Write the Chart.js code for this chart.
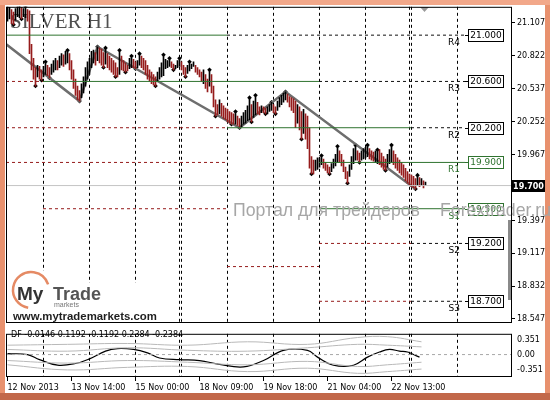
<!DOCTYPE html>
<html>
<head>
<meta charset="utf-8">
<script src="https://cdn.jsdelivr.net/npm/chart.js@4.4.0/dist/chart.umd.min.js"></script>
<style>
  html, body { margin: 0; padding: 0; background: #fff; }
  #wrap { position: relative; width: 550px; height: 400px; }
  #main { position: absolute; left: 0; top: 0; }
  #osc { position: absolute; left: 0; top: 323px; }
</style>
</head>
<body>
<div id="wrap">
  <canvas id="main" width="550" height="400"></canvas>
  <canvas id="osc" width="550" height="77"></canvas>
</div>
<script>
// SILVER H1, 12 - 22 Nov 2013, one bar per hour

const highs = [
  21.25, 21.24, 21.22, 21.20, 21.23, 21.25, 21.26, 21.24, 21.23, 21.25,
  21.22, 21.21, 20.92, 20.80, 20.72, 20.74, 20.73, 20.70, 20.73, 20.77,
  20.74, 20.72, 20.75, 20.78, 20.80, 20.78, 20.82, 20.84, 20.83, 20.86,
  20.87, 20.84, 20.78, 20.70, 20.62, 20.56, 20.52, 20.58, 20.64, 20.72,
  20.77, 20.80, 20.86, 20.87, 20.85, 20.90, 20.89, 20.88, 20.85, 20.89,
  20.84, 20.82, 20.80, 20.78, 20.76, 20.72, 20.87, 20.82, 20.78, 20.76,
  20.74, 20.80, 20.82, 20.79, 20.77, 20.78, 20.84, 20.82, 20.80, 20.78,
  20.74, 20.70, 20.68, 20.66, 20.64, 20.68, 20.72, 20.76, 20.83, 20.79,
  20.78, 20.80, 20.77, 20.75, 20.74, 20.78, 20.80, 20.77, 20.74, 20.72,
  20.74, 20.77, 20.75, 20.77, 20.74, 20.72, 20.70, 20.68, 20.70, 20.66,
  20.62, 20.70, 20.66, 20.56, 20.44, 20.40, 20.44, 20.41, 20.39, 20.37,
  20.36, 20.34, 20.33, 20.32, 20.34, 20.30, 20.28, 20.30, 20.33, 20.35,
  20.39, 20.46, 20.40, 20.43, 20.48, 20.42, 20.38, 20.39, 20.38, 20.37,
  20.38, 20.40, 20.42, 20.40, 20.38, 20.43, 20.46, 20.48, 20.50, 20.51,
  20.49, 20.47, 20.46, 20.45, 20.43, 20.40, 20.38, 20.34, 20.36, 20.32,
  20.30, 20.20, 19.95, 19.92, 19.92, 19.94, 19.94, 19.96, 19.93, 19.90,
  19.88, 19.86, 19.89, 19.93, 19.97, 20.04, 20.00, 19.97, 19.92, 19.86,
  19.82, 19.88, 19.95, 20.02, 20.05, 20.00, 19.98, 20.00, 20.02, 20.03,
  20.05, 20.02, 20.00, 19.99, 20.00, 20.01, 20.01, 19.98, 19.95, 19.93,
  19.97, 20.01, 20.05, 20.00, 19.97, 19.94, 19.92, 19.90, 19.88, 19.85,
  19.82, 19.80, 19.79, 19.78, 19.76, 19.79, 19.77, 19.76, 19.74, 19.73
];
const lows = [
  21.12, 21.14, 21.10, 21.09, 21.13, 21.16, 21.15, 21.14, 21.16, 21.15,
  21.12, 20.84, 20.70, 20.62, 20.56, 20.64, 20.62, 20.61, 20.64, 20.66,
  20.65, 20.63, 20.66, 20.68, 20.70, 20.70, 20.72, 20.74, 20.73, 20.75,
  20.76, 20.70, 20.62, 20.54, 20.48, 20.44, 20.43, 20.46, 20.50, 20.56,
  20.62, 20.66, 20.72, 20.76, 20.74, 20.78, 20.76, 20.74, 20.72, 20.75,
  20.72, 20.70, 20.68, 20.66, 20.64, 20.64, 20.66, 20.70, 20.69, 20.68,
  20.69, 20.71, 20.72, 20.72, 20.71, 20.72, 20.74, 20.72, 20.70, 20.66,
  20.62, 20.60, 20.58, 20.57, 20.56, 20.60, 20.62, 20.64, 20.65, 20.71,
  20.72, 20.73, 20.72, 20.70, 20.71, 20.72, 20.73, 20.70, 20.66, 20.64,
  20.67, 20.69, 20.71, 20.73, 20.68, 20.66, 20.64, 20.60, 20.58, 20.54,
  20.51, 20.56, 20.50, 20.38, 20.30, 20.31, 20.32, 20.30, 20.28, 20.27,
  20.25, 20.24, 20.23, 20.23, 20.23, 20.22, 20.20, 20.21, 20.23, 20.24,
  20.26, 20.27, 20.25, 20.29, 20.31, 20.32, 20.31, 20.33, 20.33, 20.32,
  20.32, 20.34, 20.35, 20.33, 20.32, 20.35, 20.38, 20.40, 20.42, 20.44,
  20.42, 20.38, 20.35, 20.33, 20.20, 20.24, 20.18, 20.10, 20.15, 20.10,
  20.02, 19.85, 19.80, 19.80, 19.83, 19.84, 19.86, 19.88, 19.85, 19.83,
  19.81, 19.80, 19.82, 19.85, 19.87, 19.90, 19.90, 19.87, 19.82, 19.76,
  19.72, 19.78, 19.84, 19.89, 19.92, 19.92, 19.90, 19.92, 19.93, 19.94,
  19.95, 19.93, 19.92, 19.91, 19.90, 19.89, 19.88, 19.86, 19.84, 19.83,
  19.86, 19.89, 19.90, 19.88, 19.85, 19.83, 19.81, 19.79, 19.77, 19.74,
  19.72, 19.70, 19.69, 19.68, 19.67, 19.70, 19.69, 19.70, 19.68, 19.70
];
const lastPrice = 19.70;

// zigzag turning points
const zigBars = [-14, 36, 45, 116, 139, 204];
const zigPrices = [21.10, 20.43, 20.90, 20.20, 20.51, 19.67];

// pivot levels
const levelPrices = [21.0, 20.6, 20.2, 19.9, 19.5, 19.2, 18.7];
const levelNames = ['R4', 'R3', 'R2', 'R1', 'S1', 'S2', 'S3'];
const levelGreen = [false, false, false, true, true, false, false];
const labelBar = 228.75;

// [price, fromBar, toBar, style]  g = green solid, r = red dashed, k = black dashed
const segments = [
  [21.0, -0.75, 109.75, 'g'], [21.0, 109.75, 228.75, 'k'],
  [20.6, -0.75, 17.75, 'r'], [20.6, 17.75, 155.75, 'g'], [20.6, 155.75, 228.75, 'k'],
  [20.2, -0.75, 109.75, 'r'], [20.2, 109.75, 201.75, 'g'], [20.2, 201.75, 228.75, 'k'],
  [19.9, -0.75, 109.75, 'r'], [19.9, 155.75, 228.75, 'g'],
  [19.5, 17.75, 109.75, 'r'], [19.5, 155.75, 228.75, 'g'],
  [19.0, 109.75, 155.75, 'r'],
  [19.2, 155.75, 201.75, 'r'], [19.2, 201.75, 228.75, 'k'],
  [18.7, 155.75, 201.75, 'r'], [18.7, 201.75, 228.75, 'k']
];

// day separators (bar positions)
const gridBars = [17.75, 40.75, 63.75, 85.75, 86.75, 109.75, 132.75, 155.75, 178.75, 200.75, 201.75, 224.75];

const priceTicks = [21.107, 20.822, 20.537, 20.252, 19.967, 19.397, 19.117, 18.832, 18.547];

const timeTicks = [0, 32, 64, 96, 128, 160, 192];
const timeLabels = ['12 Nov 2013', '13 Nov 14:00', '15 Nov 00:00', '18 Nov 09:00', '19 Nov 18:00', '21 Nov 04:00', '22 Nov 13:00'];

// DF oscillator
const dfBars = [0, 10, 16, 25, 34, 41, 49, 55, 63, 70, 76, 86, 96, 106, 118, 128, 138, 150, 155, 163, 173, 180, 186, 191, 196, 200, 203, 206];
const dfValues = [0.02, 0, -0.12, -0.25, -0.21, -0.10, 0.08, 0.14, 0.12, 0.04, -0.08, -0.12, -0.14, -0.23, -0.29, -0.14, 0.10, 0.10, -0.06, -0.25, -0.25, -0.06, 0.06, 0.12, 0.08, 0.06, 0, -0.06];
const bandBars = [0, 30, 60, 90, 120, 150, 175, 190, 207];
const upper2 = [0.22, 0.24, 0.26, 0.22, 0.30, 0.24, 0.40, 0.42, 0.30];
const upper1 = [0.12, 0.08, 0.16, 0.10, 0.08, 0.16, 0.24, 0.22, 0.18];
const lower1 = [-0.14, -0.20, -0.14, -0.18, -0.24, -0.16, -0.28, -0.24, -0.18];
const lower2 = [-0.24, -0.36, -0.30, -0.28, -0.40, -0.32, -0.44, -0.40, -0.34];
const dfTicks = [0.351, 0, -0.351];
const dfTickLabels = ['0.351', '0.00', '-0.351'];
const dfLegend = 'DF -0.0146 0.1192 -0.1192 0.2384 -0.2384';

const xMin = -0.75, xMax = 251.75;
const GREEN = '#2f732f', RED = '#961c1c';

Chart.defaults.font.family = '"DejaVu Sans"';
Chart.defaults.font.size = 8;
Chart.defaults.color = '#000';

// bars: black when the bar moves up, dark red when it moves down
const barColors = highs.map((h, i) => {
  if (i === 0) return '#000';
  return (h + lows[i]) >= (highs[i - 1] + lows[i - 1]) ? '#000' : RED;
});

// fractals (5 bar rule)
const fracUp = [], fracDn = [];
for (let i = 2; i < highs.length - 2; i++) {
  if (highs[i] > highs[i - 1] && highs[i] > highs[i - 2] && highs[i] >= highs[i + 1] && highs[i] >= highs[i + 2]) fracUp.push({ x: i, y: highs[i] });
  if (lows[i] < lows[i - 1] && lows[i] < lows[i - 2] && lows[i] <= lows[i + 1] && lows[i] <= lows[i + 2]) fracDn.push({ x: i, y: lows[i] });
}

const segStyle = {
  g: { color: GREEN, dash: [] },
  r: { color: RED, dash: [3, 3] },
  k: { color: '#111', dash: [3, 3] }
};

const segDatasets = segments.map(s => ({
  type: 'line',
  data: [{ x: s[1], y: s[0] }, { x: s[2], y: s[0] }],
  borderColor: segStyle[s[3]].color,
  borderDash: segStyle[s[3]].dash,
  borderWidth: 1,
  pointRadius: 0
}));

const dayLines = {
  id: 'dayLines',
  beforeDatasetsDraw(c) {
    const g = c.ctx, a = c.chartArea, x = c.scales.x;
    g.save();
    g.strokeStyle = '#000';
    g.lineWidth = 1;
    g.setLineDash([3, 3]);
    gridBars.forEach(b => {
      const px = Math.round(x.getPixelForValue(b)) + 0.5;
      g.beginPath();
      g.moveTo(px, a.top);
      g.lineTo(px, a.bottom);
      g.stroke();
    });
    g.restore();
  }
};

function fitFont(g, text, weight, family, width) {
  g.font = weight + ' 20px ' + family;
  const size = 20 * width / g.measureText(text).width;
  g.font = weight + ' ' + size.toFixed(2) + 'px ' + family;
}

const frame = {
  id: 'frame',
  beforeDraw(c) {
    const g = c.ctx;
    g.save();
    g.fillStyle = '#e8916e';
    g.fillRect(0, 0, 550, 400);
    g.fillStyle = '#f2a88a';
    g.fillRect(0, 0, 550, 5);
    g.fillStyle = '#c2684a';
    g.fillRect(0, 393, 550, 7);
    g.fillStyle = '#fff';
    g.fillRect(5, 5, 540, 388);
    g.restore();
  },
  beforeDatasetsDraw(c) {
    const g = c.ctx;
    g.save();
    g.fillStyle = '#505050';
    g.font = '21px "Liberation Serif"';
    g.fillText('SILVER H1', 10, 28);
    g.restore();
  },
  afterDraw(c) {
    const g = c.ctx, x = c.scales.x, y = c.scales.y, a = c.chartArea;
    g.save();

    // pivot labels
    const xe = x.getPixelForValue(labelBar);
    levelPrices.forEach((p, i) => {
      const py = Math.round(y.getPixelForValue(p)) + 0.5;
      const col = levelGreen[i] ? GREEN : '#000';
      g.strokeStyle = col;
      g.lineWidth = 1;
      g.beginPath();
      g.moveTo(xe, py);
      g.lineTo(xe + 3, py);
      g.stroke();
      g.fillStyle = '#fff';
      g.fillRect(xe + 3.5, py - 6, 35, 12);
      g.strokeRect(xe + 3.5, py - 6, 35, 12);
      g.fillStyle = col;
      g.font = '9px "DejaVu Sans"';
      g.textAlign = 'center';
      g.textBaseline = 'middle';
      g.fillText(p.toFixed(3), xe + 21, py + 0.5);
      g.textAlign = 'right';
      g.textBaseline = 'top';
      g.fillText(levelNames[i], xe - 5, py + 3);
    });

    // watermark
    g.fillStyle = '#a6a6a6';
    g.textAlign = 'left';
    g.textBaseline = 'alphabetic';
    fitFont(g, 'Портал для трейдеров', '', '"Liberation Sans"', 187);
    g.fillText('Портал для трейдеров', 233, 216);
    g.fillText('Forextrader.ru', 440, 216);

    // logo
    g.fillStyle = '#fff';
    g.fillRect(10, 271, 42, 51);
    g.fillRect(52, 283, 108, 39);
    g.strokeStyle = '#e58a64';
    g.lineWidth = 2.5;
    g.beginPath();
    g.arc(31, 290, 18, 0.55 * Math.PI, 1.9 * Math.PI);
    g.stroke();
    g.fillStyle = '#333';
    g.font = 'bold 19px "Liberation Sans"';
    g.fillText('My', 17, 300);
    g.fillStyle = '#555';
    g.font = 'bold 18px "Liberation Sans"';
    g.fillText('Trade', 53, 300);
    g.font = '7px "Liberation Sans"';
    g.fillStyle = '#777';
    g.fillText('markets', 54, 307);
    g.fillStyle = '#1e1e1e';
    fitFont(g, 'www.mytrademarkets.com', 'bold', '"Liberation Sans"', 144);
    g.fillText('www.mytrademarkets.com', 13, 320);

    // scroll bar piece and shift marker
    g.fillStyle = '#8a8a8a';
    g.fillRect(508, 220, 4, 80);
    g.fillStyle = '#9a9a9a';
    g.beginPath();
    g.moveTo(420, 7);
    g.lineTo(429, 7);
    g.lineTo(424.5, 12);
    g.closePath();
    g.fill();

    // plot border
    g.strokeStyle = '#000';
    g.lineWidth = 1;
    g.strokeRect(a.left + 0.5, a.top + 0.5, a.right - a.left, a.bottom - a.top);

    // last price box
    const ly = Math.round(y.getPixelForValue(lastPrice));
    g.fillStyle = '#000';
    g.fillRect(512, ly - 6, 33, 12);
    g.fillStyle = '#fff';
    g.font = 'bold 8px "DejaVu Sans"';
    g.textAlign = 'center';
    g.textBaseline = 'middle';
    g.fillText(lastPrice.toFixed(3), 528.5, ly + 0.5);
    g.restore();
  }
};

new Chart(document.getElementById('main'), {
  type: 'bar',
  data: {
    datasets: [
      {
        type: 'line',
        data: [{ x: xMin, y: lastPrice }, { x: xMax, y: lastPrice }],
        borderColor: '#c4c4c4',
        borderWidth: 1,
        pointRadius: 0
      },
      ...segDatasets,
      {
        type: 'bar',
        data: highs.map((h, i) => ({ x: i, y: [lows[i], h] })),
        backgroundColor: barColors,
        borderWidth: 0,
        barThickness: 1
      },
      {
        type: 'line',
        data: zigBars.map((b, i) => ({ x: b, y: zigPrices[i] })),
        borderColor: '#6e6e6e',
        borderWidth: 2.5,
        pointRadius: 0
      },
      {
        type: 'line',
        data: fracUp.concat(fracDn),
        showLine: false,
        pointStyle: 'rectRot',
        pointRadius: 2.3,
        backgroundColor: '#000',
        borderColor: '#000',
        borderWidth: 0
      }
    ]
  },
  options: {
    responsive: false,
    animation: false,
    events: [],
    layout: { padding: { left: 6, top: 6, right: 0, bottom: 78 } },
    plugins: { legend: { display: false }, tooltip: { enabled: false } },
    scales: {
      x: { type: 'linear', min: xMin, max: xMax, offset: false, display: false },
      y: {
        type: 'linear',
        position: 'right',
        min: 18.521,
        max: 21.245,
        afterBuildTicks: s => { s.ticks = priceTicks.map(v => ({ value: v })); },
        afterFit: s => { s.width = 39; },
        ticks: { padding: 2, callback: v => v.toFixed(3) },
        grid: { drawOnChartArea: false, drawTicks: true, tickLength: 4, tickColor: '#000' },
        border: { display: false }
      }
    }
  },
  plugins: [frame, dayLines]
});

const oscDecor = {
  id: 'oscDecor',
  afterDraw(c) {
    const g = c.ctx, a = c.chartArea;
    g.save();
    g.strokeStyle = '#000';
    g.lineWidth = 1;
    g.strokeRect(a.left + 0.5, a.top + 0.5, a.right - a.left, a.bottom - a.top - 1);
    g.fillStyle = '#000';
    g.font = '8px "DejaVu Sans"';
    g.fillText(dfLegend, 11, 14);
    g.restore();
  }
};

const bandSet = arr => ({
  data: bandBars.map((b, i) => ({ x: b, y: arr[i] })),
  borderColor: '#b9b9b9',
  borderWidth: 1,
  pointRadius: 0,
  tension: 0.4
});

new Chart(document.getElementById('osc'), {
  type: 'line',
  data: {
    datasets: [
      bandSet(upper2), bandSet(upper1), bandSet(lower1), bandSet(lower2),
      {
        data: [{ x: xMin, y: 0 }, { x: xMax, y: 0 }],
        borderColor: '#a8a8a8',
        borderDash: [3, 3],
        borderWidth: 1,
        pointRadius: 0
      },
      {
        data: dfBars.map((b, i) => ({ x: b, y: dfValues[i] })),
        borderColor: '#000',
        borderWidth: 1.2,
        pointRadius: 0,
        tension: 0.4
      }
    ]
  },
  options: {
    responsive: false,
    animation: false,
    events: [],
    layout: { padding: { left: 6, top: 2, right: 0, bottom: 0 } },
    plugins: { legend: { display: false }, tooltip: { enabled: false } },
    scales: {
      x: {
        type: 'linear',
        min: xMin,
        max: xMax,
        position: 'bottom',
        afterBuildTicks: s => { s.ticks = timeTicks.map(v => ({ value: v })); },
        afterFit: s => { s.height = 23; },
        ticks: { align: 'start', autoSkip: false, maxRotation: 0, padding: 2, callback: (v, i) => timeLabels[i] },
        grid: { drawOnChartArea: false, drawTicks: true, tickLength: 4, tickColor: '#000' },
        border: { display: false }
      },
      y: {
        type: 'linear',
        position: 'right',
        min: -0.5265,
        max: 0.4875,
        afterBuildTicks: s => { s.ticks = dfTicks.map(v => ({ value: v })); },
        afterFit: s => { s.width = 39; },
        ticks: { padding: 6, callback: (v, i) => dfTickLabels[i] },
        grid: { display: false, drawTicks: false },
        border: { display: false }
      }
    }
  },
  plugins: [dayLines, oscDecor]
});
</script>
</body>
</html>
